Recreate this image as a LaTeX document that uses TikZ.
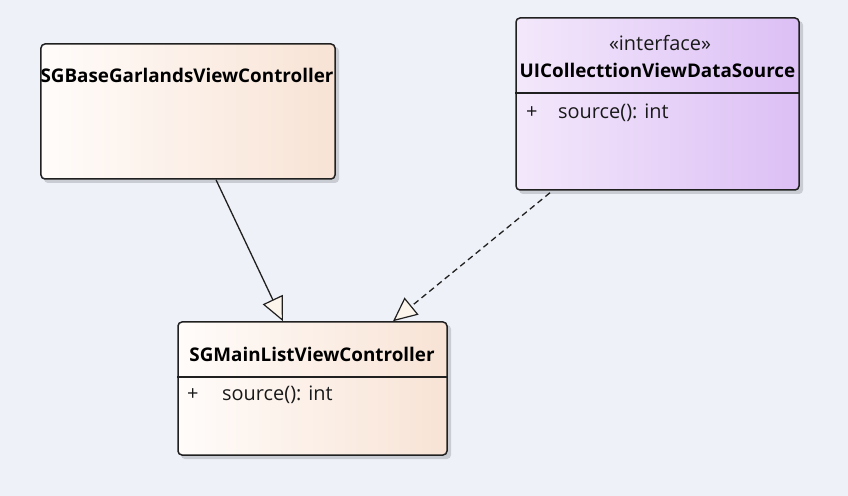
\documentclass[tikz,border=0pt]{standalone}
\usepackage{fontspec}
\setmainfont{Open Sans}
\usetikzlibrary{arrows.meta,calc}
\definecolor{bg}{HTML}{EEF1F7}
\definecolor{peachL}{HTML}{FFFCFA}
\definecolor{peachR}{HTML}{F8E3D5}
\definecolor{lilacL}{HTML}{F3E8FB}
\definecolor{lilacR}{HTML}{DCBFF5}
\definecolor{shadowc}{HTML}{C9CCD3}
\definecolor{linec}{HTML}{202020}
\definecolor{tipfill}{HTML}{FCF5EC}
\tikzset{
  x=1bp, y=-1bp,
  classbox/.style={draw=linec, line width=1.5bp, rounded corners=4bp, inner sep=0pt},
  peach/.style={left color=peachL, right color=peachR},
  lilac/.style={left color=lilacL, right color=lilacR},
  titletext/.style={font=\fontsize{18.9}{20}\selectfont\bfseries, text=black, inner sep=0pt},
  plaintext/.style={font=\fontsize{20}{22}\selectfont, text=black!90, inner sep=0pt},
  attrtext/.style={plaintext, anchor=west},
  sep/.style={draw=linec, line width=1.5bp},
  inherit/.style={draw=linec, line width=1.3bp, -{Triangle[length=24bp,width=22bp,fill=tipfill,line width=1.2bp]}},
  realize/.style={inherit, dashed, dash pattern=on 6bp off 4bp},
}
\begin{document}
\begin{tikzpicture}
\useasboundingbox[fill=bg] (0,0) rectangle (848,496);
% shadows
\fill[shadowc, rounded corners=4bp] (44,47) rectangle (339,183);
\fill[shadowc, rounded corners=4bp] (519,21) rectangle (803,194);
\fill[shadowc, rounded corners=4bp] (181,325) rectangle (451,459);
% boxes
\node[classbox, peach, minimum width=294bp, minimum height=135bp] (A) at (188,111.5) {};
\node[classbox, lilac, minimum width=283bp, minimum height=172bp] (B) at (657.5,104) {};
\node[classbox, peach, minimum width=269bp, minimum height=133bp] (C) at (312.5,388.5) {};
% texts
\node[titletext] (At) at (187,75) {SGBaseGarlandsViewController};
\node[plaintext] (Bs) at (660,43) {«interface»};
\node[titletext] (Bt) at (657.5,70) {UICollecttionViewDataSource};
\draw[sep] (B.west |- 0,93) coordinate (Bl) -- (B.east |- 0,93) coordinate (Br);
\node[attrtext] (Bp) at (526,113) {+};
\node[attrtext] (Ba) at (558,113) {source(): int};
\node[titletext] (Ct) at (312,354) {SGMainListViewController};
\draw[sep] (C.west |- 0,377) coordinate (Cl) -- (C.east |- 0,377) coordinate (Cr);
\node[attrtext] (Cp) at (187,395) {+};
\node[attrtext] (Ca) at (222,395) {source(): int};
% connectors
\draw[inherit] ([xshift=28bp]A.south) -- ([xshift=-29.5bp]C.north);
\draw[realize] ([xshift=-107.5bp,yshift=-2bp]B.south) -- ([xshift=80.5bp]C.north);
\end{tikzpicture}
\end{document}
